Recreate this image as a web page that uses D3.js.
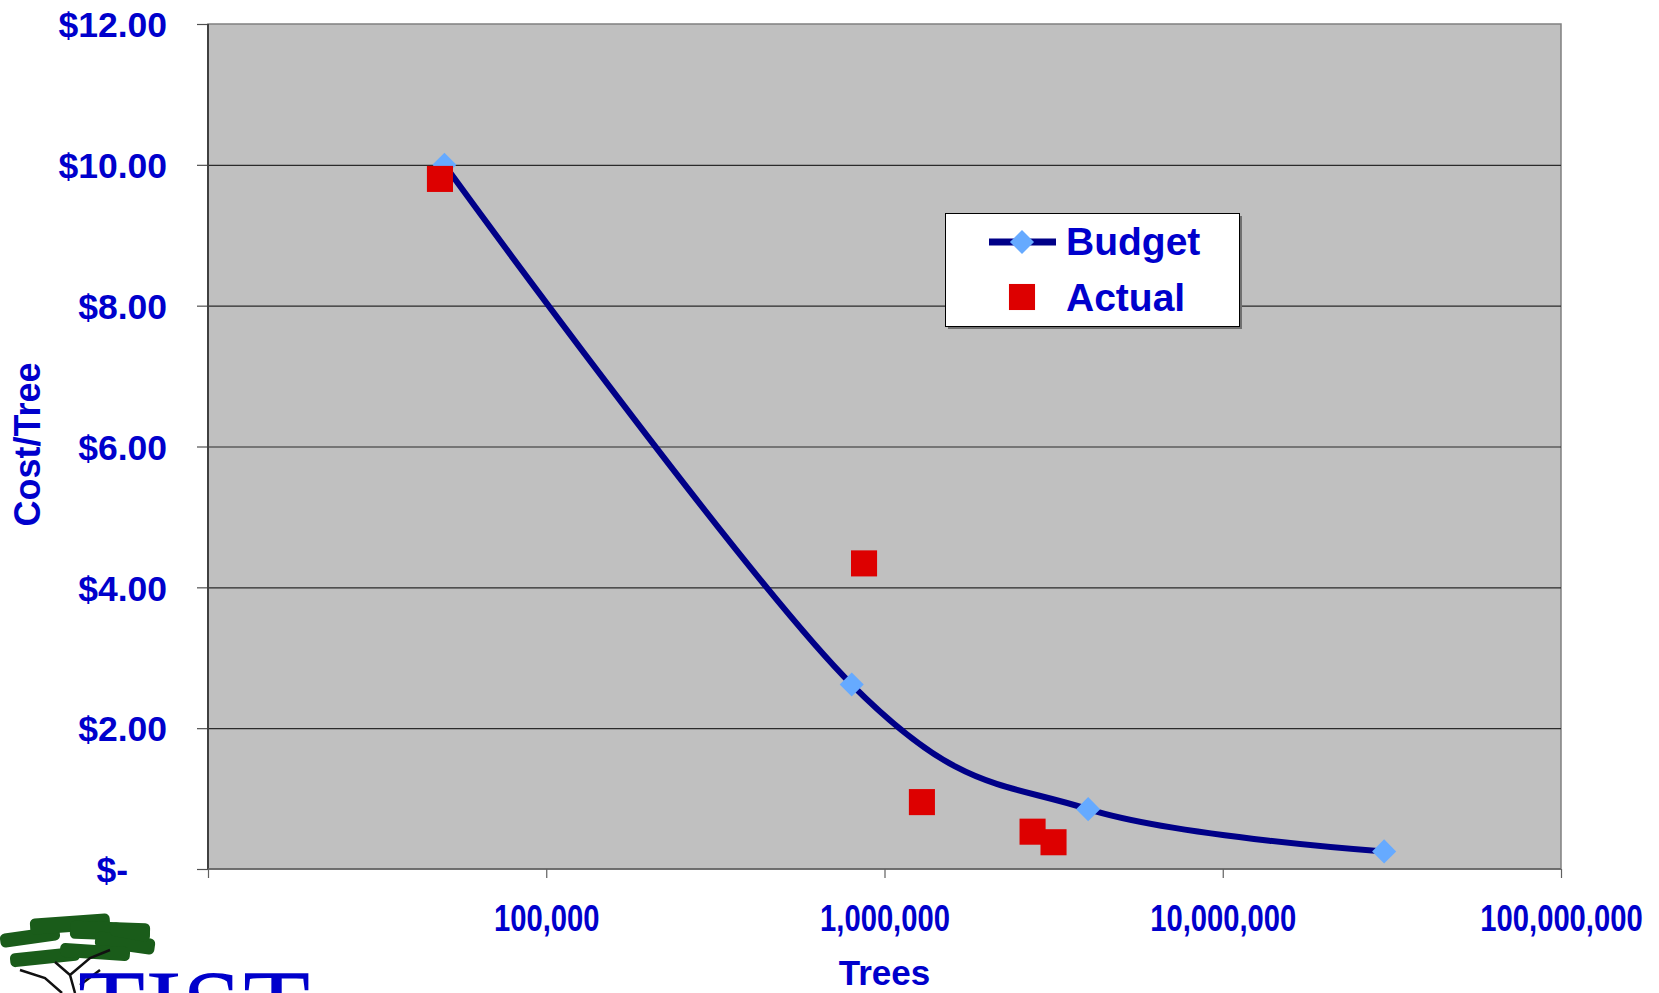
<!DOCTYPE html>
<html>
<head>
<meta charset="utf-8">
<script src="https://cdn.jsdelivr.net/npm/d3@7"></script>
<style>
  html, body { margin: 0; padding: 0; background: #fff; }
  svg { display: block; }
  text { font-family: "Liberation Sans", Arial, sans-serif; font-weight: bold; fill: #0000cc; }
</style>
</head>
<body>
<div id="chart"></div>
<script>
// data
const budgetTrees = [50000, 800000, 4000000, 30000000];
const budgetCost = [10.00, 2.62, 0.85, 0.25];
const actualTrees = [48500, 870000, 1290000, 2740000, 3160000];
const actualCost = [9.80, 4.34, 0.95, 0.53, 0.38];
const xTicks = [1e4, 1e5, 1e6, 1e7, 1e8];
const yTicks = [0, 2, 4, 6, 8, 10, 12];
const seriesNames = ["Budget", "Actual"];

const width = 1659, height = 993;
const plot = {left: 208, right: 1561, top: 24, bottom: 869};

const svg = d3.select("#chart").append("svg")
  .attr("width", width)
  .attr("height", height);

const x = d3.scaleLog()
  .domain([1e4, 1e8])
  .range([plot.left, plot.right]);

const y = d3.scaleLinear()
  .domain([0, 12])
  .range([plot.bottom, plot.top]);

// plot background
svg.append("rect")
  .attr("x", plot.left).attr("y", plot.top)
  .attr("width", plot.right - plot.left)
  .attr("height", plot.bottom - plot.top)
  .attr("fill", "#c0c0c0")
  .attr("stroke", "#808080")
  .attr("stroke-width", 1.5);

// gridlines
svg.append("g")
  .selectAll("line")
  .data(yTicks.filter(d => d > 0 && d < 12))
  .join("line")
    .attr("x1", plot.left).attr("x2", plot.right)
    .attr("y1", d => y(d) + 0.5).attr("y2", d => y(d) + 0.5)
    .attr("stroke", "#2a2a2a")
    .attr("stroke-width", 1.2);

// Y axis
const yAxis = svg.append("g")
  .attr("transform", `translate(${plot.left},0)`)
  .call(d3.axisLeft(y).tickValues(yTicks).tickSize(11)
    .tickFormat(d => d === 0 ? "$-" : d3.format("$.2f")(d)));
yAxis.select(".domain").remove();
yAxis.selectAll(".tick line").attr("stroke", "#505050").attr("stroke-width", 1.2);
yAxis.selectAll(".tick text")
  .attr("x", d => d === 0 ? -80 : -41)
  .attr("dy", "0.36em")
  .style("font-size", "35.5px")
  .attr("fill", "#0000cc");

// X axis
const xAxis = svg.append("g")
  .attr("transform", `translate(0,${plot.bottom})`)
  .call(d3.axisBottom(x).tickValues(xTicks).tickSize(9)
    .tickFormat(d => d === 1e4 ? "" : d3.format(",")(d)));
xAxis.select(".domain").remove();
xAxis.selectAll(".tick line").attr("stroke", "#606060").attr("stroke-width", 1.2);
xAxis.selectAll(".tick text")
  .attr("y", 62)
  .attr("dy", "0")
  .attr("transform", "scale(0.8,1)")
  .style("font-size", "36.5px")
  .attr("fill", "#0000cc");

// axis lines
svg.append("line")
  .attr("x1", plot.left).attr("x2", plot.left)
  .attr("y1", plot.top).attr("y2", plot.bottom)
  .attr("stroke", "#404040").attr("stroke-width", 2);
svg.append("line")
  .attr("x1", plot.left).attr("x2", plot.right)
  .attr("y1", plot.bottom).attr("y2", plot.bottom)
  .attr("stroke", "#606060").attr("stroke-width", 1.5);

// axis titles
svg.append("text")
  .attr("x", (plot.left + plot.right) / 2)
  .attr("y", 985)
  .attr("text-anchor", "middle")
  .style("font-size", "35px")
  .text("Trees");

svg.append("text")
  .attr("transform", `translate(40,${(plot.top + plot.bottom) / 2 - 2}) rotate(-90)`)
  .attr("text-anchor", "middle")
  .style("font-size", "36px")
  .text("Cost/Tree");

// Budget line (smoothed)
const budget = budgetTrees.map((t, i) => ({t, c: budgetCost[i]}));
const actual = actualTrees.map((t, i) => ({t, c: actualCost[i]}));

const line = d3.line()
  .x(d => x(d.t))
  .y(d => y(d.c))
  .curve(d3.curveCatmullRom.alpha(0));

svg.append("path")
  .datum(budget)
  .attr("fill", "none")
  .attr("stroke", "#000088")
  .attr("stroke-width", 6)
  .attr("d", line);

const diamond = d3.symbol(d3.symbolSquare, 290);
const square = d3.symbol(d3.symbolSquare, 680);

svg.append("g")
  .selectAll("path")
  .data(budget)
  .join("path")
    .attr("transform", d => `translate(${x(d.t)},${y(d.c)}) rotate(45)`)
    .attr("d", diamond)
    .attr("fill", "#66aaff");

svg.append("g")
  .selectAll("path")
  .data(actual)
  .join("path")
    .attr("transform", d => `translate(${x(d.t)},${y(d.c)})`)
    .attr("d", square)
    .attr("fill", "#dd0000");

// legend
const lg = svg.append("g");
lg.append("rect")
  .attr("x", 948).attr("y", 216).attr("width", 294).attr("height", 113)
  .attr("fill", "#707070");
lg.append("rect")
  .attr("x", 945.5).attr("y", 213.5).attr("width", 294).attr("height", 113)
  .attr("fill", "#fff").attr("stroke", "#000").attr("stroke-width", 1);
lg.append("line")
  .attr("x1", 989).attr("x2", 1056).attr("y1", 242).attr("y2", 242)
  .attr("stroke", "#000088").attr("stroke-width", 7);
lg.append("path")
  .attr("transform", "translate(1022,242) rotate(45)")
  .attr("d", diamond)
  .attr("fill", "#66aaff");
lg.append("path")
  .attr("transform", "translate(1022,297)")
  .attr("d", square)
  .attr("fill", "#dd0000");
lg.selectAll("text.leg")
  .data(seriesNames)
  .join("text")
    .attr("class", "leg")
    .attr("x", 1066)
    .attr("y", (d, i) => 255 + i * 56)
    .style("font-size", "39px")
    .text(d => d);

// logo fragment, bottom-left
const logo = svg.append("g");
const leaves = [[0, 930, 60, 14, -8], [30, 916, 80, 16, -4], [70, 922, 80, 18, 2],
  [95, 935, 60, 16, 8], [10, 950, 70, 14, -6], [60, 945, 70, 14, 4], [110, 925, 40, 14, 10]];
logo.selectAll("rect")
  .data(leaves)
  .join("rect")
    .attr("x", d => d[0]).attr("y", d => d[1])
    .attr("width", d => d[2]).attr("height", d => d[3])
    .attr("rx", 5)
    .attr("transform", d => `rotate(${d[4]},${d[0] + d[2] / 2},${d[1] + d[3] / 2})`)
    .attr("fill", "#1a5c1a");
logo.append("path")
  .attr("d", "M75,993 L70,975 L55,962 M70,975 L90,958 L110,950 M62,993 L45,978 L20,970 M80,985 L100,970")
  .attr("fill", "none").attr("stroke", "#111").attr("stroke-width", 2.5);
logo.append("text")
  .attr("x", 78).attr("y", 1046)
  .style("font-family", "'Liberation Serif', 'Times New Roman', serif")
  .style("font-weight", "normal")
  .style("font-size", "110px")
  .attr("fill", "#5b8c23")
  .text("TIST");
</script>
</body>
</html>
